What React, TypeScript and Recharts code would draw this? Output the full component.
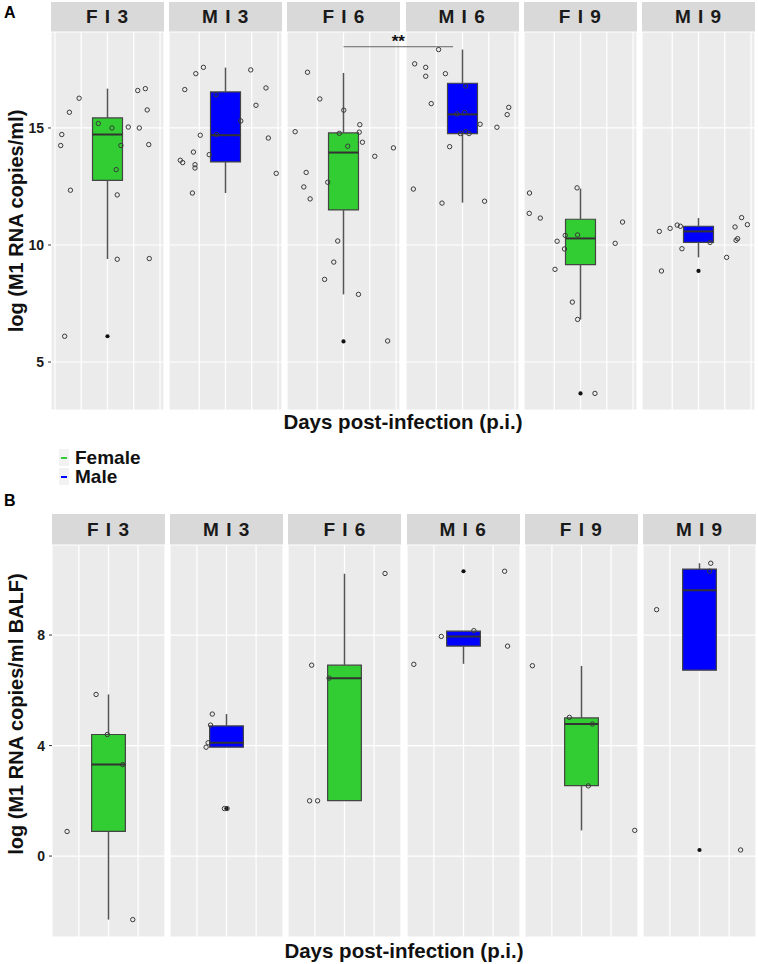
import React from "react"
import { ComposedChart, Scatter, XAxis, YAxis, CartesianGrid, ReferenceArea, ReferenceLine } from "recharts"

const facetLabels = ["F I 3", "M I 3", "F I 6", "M I 6", "F I 9", "M I 9"]
const facetSex = ["Female", "Male", "Female", "Male", "Female", "Male"]
const sexColors: Record<string, string> = { Female: "#32CD32", Male: "#0000FF" }

// panel A: lung, log (M1 RNA copies/ml)
const lungLow = [9.4, 12.22, 7.89, 11.81, 6.82, 9.47]
const lungQ1 = [12.76, 13.55, 11.5, 14.76, 9.16, 10.11]
const lungMedian = [14.72, 14.69, 13.95, 15.58, 10.28, 10.58]
const lungQ3 = [15.43, 16.54, 14.79, 16.91, 11.1, 10.8]
const lungHigh = [16.68, 17.58, 17.35, 18.35, 12.41, 11.15]
const lungOutliers = [[6.1], [], [5.88], [], [3.66], [8.89]]
const lungPoints = [
  [[-1.78, 14.25], [-1.74, 14.72], [-1.63, 6.1], [-1.45, 15.67], [-1.41, 12.34], [-1.08, 16.27], [-0.35, 15.19], [0.17, 15.0], [0.33, 13.22], [0.37, 12.14], [0.37, 9.39], [0.51, 14.25], [0.79, 15.04], [1.15, 16.6], [1.21, 15.0], [1.44, 16.68], [1.51, 15.77], [1.57, 14.29], [1.59, 9.42]],
  [[-1.55, 16.64], [-1.13, 17.32], [-0.84, 17.59], [-0.96, 14.69], [-1.22, 13.97], [-1.72, 13.62], [-1.63, 13.52], [-1.16, 13.43], [-1.16, 13.29], [-1.26, 12.22], [-0.62, 13.86], [-0.36, 16.42], [-0.34, 14.72], [0.58, 15.3], [0.96, 17.48], [1.16, 15.97], [1.54, 16.71], [1.63, 14.57], [1.93, 13.06]],
  [[-1.37, 17.38], [-0.9, 16.24], [0.01, 15.76], [-1.84, 14.84], [0.62, 15.14], [0.6, 14.82], [-0.16, 14.77], [0.16, 14.22], [0.72, 14.39], [1.9, 14.15], [1.19, 13.79], [-1.42, 13.1], [-1.51, 12.48], [-1.27, 11.97], [-0.6, 12.68], [-0.22, 10.17], [-0.37, 9.27], [-0.72, 8.53], [0.57, 7.89], [1.68, 5.9]],
  [[-0.91, 18.35], [-1.82, 17.74], [-1.4, 17.59], [-1.4, 17.21], [-0.65, 17.32], [-1.19, 16.04], [0.12, 16.79], [-0.21, 15.6], [0.08, 15.66], [0.67, 15.16], [1.31, 15.03], [1.76, 15.88], [1.7, 15.57], [-0.08, 14.76], [0.12, 14.84], [0.25, 14.76], [-0.49, 14.2], [-1.87, 12.39], [-0.78, 11.79], [0.84, 11.87]],
  [[-1.94, 12.22], [-1.95, 11.35], [-1.53, 11.15], [-0.89, 10.16], [-0.61, 9.83], [-0.58, 10.41], [-0.97, 8.96], [-0.31, 7.56], [-0.11, 6.82], [-0.13, 12.44], [-0.11, 10.43], [0.55, 3.66], [1.32, 10.07], [1.6, 10.98]],
  [[-1.49, 10.58], [-1.08, 10.71], [-0.81, 10.85], [-0.69, 10.8], [-0.63, 9.84], [-1.41, 8.89], [0.44, 10.11], [1.07, 9.47], [1.39, 10.77], [1.64, 11.17], [1.86, 10.87], [1.43, 10.2], [1.49, 10.27]],
]
const lungTicks = [5, 10, 15]
// ** bracket between F I 6 and M I 6
const lungBracket = { facet: 2, from: 0, to: 4.17, y: 18.47, label: "**" }

// panel B: BALF, log (M1 RNA copies/ml BALF)
const balfLow = [-2.3, 3.94, 2.01, 6.96, 0.93, 6.73]
const balfQ1 = [0.89, 3.94, 2.01, 7.6, 2.55, 6.73]
const balfMedian = [3.31, 4.1, 6.44, 7.95, 4.78, 9.62]
const balfQ3 = [4.4, 4.71, 6.91, 8.14, 5.0, 10.39]
const balfHigh = [5.85, 5.14, 10.22, 8.14, 6.88, 10.6]
const balfOutliers = [[], [1.72], [], [10.31], [], [0.22]]
const balfPoints = [
  [[-0.42, 5.85], [-1.4, 0.89], [-0.04, 4.4], [0.48, 3.31], [0.82, -2.3]],
  [[-0.48, 5.14], [-0.54, 4.74], [-0.62, 4.1], [-0.69, 3.94], [-0.07, 1.72], [0.02, 1.72]],
  [[-1.11, 6.91], [-0.52, 6.44], [-1.18, 2.0], [-0.91, 2.0], [1.37, 10.23]],
  [[-0.75, 7.95], [-1.68, 6.94], [0.35, 8.16], [1.39, 10.31], [1.49, 7.6]],
  [[-1.66, 6.89], [-0.41, 5.02], [0.37, 4.78], [0.23, 2.54], [1.8, 0.93]],
  [[-1.45, 8.92], [0.38, 10.6], [0.34, 10.31], [1.39, 0.22]],
]
const balfTicks = [0, 4, 8]

const FACET_W = 113
const FACET_STEP = 118.2
const FONT = "'Liberation Sans', Arial, sans-serif"
const BOX_HALF = 0.57

const panels = [
  {
    tag: "A", tagTop: 4,
    left: 51, stripTop: 2, plotTop: 32, plotH: 378, axisW: 51,
    yDomain: [2.95, 19.1], yTicks: lungTicks, xDomain: [-2.15, 2.15], xTicks: [-2, -1, 0, 1, 2],
    low: lungLow, q1: lungQ1, median: lungMedian, q3: lungQ3, high: lungHigh,
    outliers: lungOutliers, points: lungPoints, bracket: lungBracket,
    yTitle: "log (M1 RNA copies/ml)", yTitleY: 221, xTitleY: 422,
  },
  {
    tag: "B", tagTop: 492,
    left: 52, stripTop: 514, plotTop: 545, plotH: 392, axisW: 52,
    yDomain: [-2.93, 11.26], yTicks: balfTicks, xDomain: [-1.91, 1.91], xTicks: [-1, 0, 1],
    low: balfLow, q1: balfQ1, median: balfMedian, q3: balfQ3, high: balfHigh,
    outliers: balfOutliers, points: balfPoints, bracket: null as any,
    yTitle: "log (M1 RNA copies/ml BALF)", yTitleY: 714, xTitleY: 951,
  },
]

const openCircle = (p: any) => (
  <circle cx={p.cx} cy={p.cy} r={2.2} fill="none" stroke="#3a3a3a" strokeWidth={1} />
)
const filledDot = (p: any) => <circle cx={p.cx} cy={p.cy} r={2.1} fill="#111" />

function Facet({ panel, i }: { panel: any; i: number }) {
  const first = i === 0
  const w = FACET_W + (first ? panel.axisW : 0)
  const left = first ? panel.left - panel.axisW : panel.left + i * FACET_STEP
  const pts = panel.points[i].map(([x, y]: number[]) => ({ x, y }))
  const outs = panel.outliers[i].map((y: number) => ({ x: 0, y }))
  const color = sexColors[facetSex[i]]
  const br = panel.bracket && panel.bracket.facet === i ? panel.bracket : null
  return (
    <div style={{ position: "absolute", left, top: panel.plotTop, zIndex: br ? 3 : 1 }}>
      <ComposedChart width={w} height={panel.plotH} margin={{ top: 0, right: 0, bottom: 0, left: 0 }}>
        <CartesianGrid fill="#EBEBEB" fillOpacity={1} stroke="#FFFFFF" strokeWidth={1.2} />
        <XAxis type="number" dataKey="x" domain={panel.xDomain} ticks={panel.xTicks} hide allowDataOverflow />
        <YAxis
          type="number"
          dataKey="y"
          domain={panel.yDomain}
          ticks={panel.yTicks}
          hide={!first}
          width={panel.axisW}
          allowDataOverflow
          axisLine={false}
          tickSize={3}
          tickMargin={4}
          tickLine={{ stroke: "#333" }}
          tick={{ fontSize: 14, fontWeight: 700, fill: "#1a1a1a", fontFamily: FONT }}
        />
        <ReferenceLine segment={[{ x: 0, y: panel.low[i] }, { x: 0, y: panel.q1[i] }]} stroke="#555" strokeWidth={1.5} />
        <ReferenceLine segment={[{ x: 0, y: panel.q3[i] }, { x: 0, y: panel.high[i] }]} stroke="#555" strokeWidth={1.5} />
        <ReferenceArea x1={-BOX_HALF} x2={BOX_HALF} y1={panel.q1[i]} y2={panel.q3[i]} fill={color} fillOpacity={1} stroke="#444" strokeWidth={1.2} />
        <ReferenceLine segment={[{ x: -BOX_HALF, y: panel.median[i] }, { x: BOX_HALF, y: panel.median[i] }]} stroke="#333" strokeWidth={2} />
        {br && (
          <ReferenceLine
            segment={[{ x: br.from, y: br.y }, { x: br.to, y: br.y }]}
            ifOverflow="visible"
            stroke="#666"
            strokeWidth={1}
            label={{ value: br.label, position: "top", offset: 0, fontSize: 17, fontWeight: 700, fill: "#111", fontFamily: FONT }}
          />
        )}
        <Scatter data={outs} dataKey="y" isAnimationActive={false} shape={filledDot} />
        <Scatter data={pts} dataKey="y" isAnimationActive={false} shape={openCircle} />
      </ComposedChart>
    </div>
  )
}

function Panel({ panel }: { panel: any }) {
  const plotRight = panel.left + 5 * FACET_STEP + FACET_W
  return (
    <>
      <div style={{ position: "absolute", left: 4, top: panel.tagTop, fontSize: 16, fontWeight: 700, fontFamily: FONT }}>{panel.tag}</div>
      {facetLabels.map((lab, i) => (
        <div
          key={lab}
          style={{
            position: "absolute",
            left: panel.left + i * FACET_STEP,
            top: panel.stripTop,
            width: FACET_W,
            height: panel.plotTop - panel.stripTop,
            background: "#D9D9D9",
            display: "flex",
            alignItems: "center",
            justifyContent: "center",
            fontSize: 19,
            fontWeight: 700,
            letterSpacing: 1,
            color: "#1a1a1a",
            fontFamily: FONT,
            whiteSpace: "pre",
          }}
        >
          {lab}
        </div>
      ))}
      {facetLabels.map((lab, i) => (
        <Facet key={lab} panel={panel} i={i} />
      ))}
      <div
        style={{
          position: "absolute",
          left: 16,
          top: panel.yTitleY,
          transform: "translate(-50%, -50%) rotate(-90deg)",
          whiteSpace: "nowrap",
          fontSize: 20,
          fontWeight: 700,
          fontFamily: FONT,
          color: "#111",
        }}
      >
        {panel.yTitle}
      </div>
      <div
        style={{
          position: "absolute",
          left: (panel.left + plotRight) / 2,
          top: panel.xTitleY,
          transform: "translate(-50%, -50%)",
          whiteSpace: "nowrap",
          fontSize: 20.5,
          fontWeight: 700,
          fontFamily: FONT,
          color: "#111",
        }}
      >
        Days post-infection (p.i.)
      </div>
    </>
  )
}

function Legend() {
  const items = ["Female", "Male"]
  return (
    <div style={{ position: "absolute", left: 59, top: 448, fontFamily: FONT }}>
      {items.map((s) => (
        <div key={s} style={{ display: "flex", alignItems: "center", height: 19 }}>
          <div style={{ width: 10, height: 17, background: "#F2F2F2", position: "relative", marginRight: 6 }}>
            <div style={{ position: "absolute", left: 2, top: 8, width: 6, height: 2, background: sexColors[s] }} />
          </div>
          <span style={{ fontSize: 19, fontWeight: 700, color: "#111" }}>{s}</span>
        </div>
      ))}
    </div>
  )
}

export default function App() {
  return (
    <div style={{ position: "absolute", left: 0, top: 0, width: 758, height: 964, background: "#fff", fontFamily: FONT }}>
      <style>{`.recharts-surface { overflow: visible; }`}</style>
      {panels.map((p) => (
        <Panel key={p.tag} panel={p} />
      ))}
      <Legend />
    </div>
  )
}
